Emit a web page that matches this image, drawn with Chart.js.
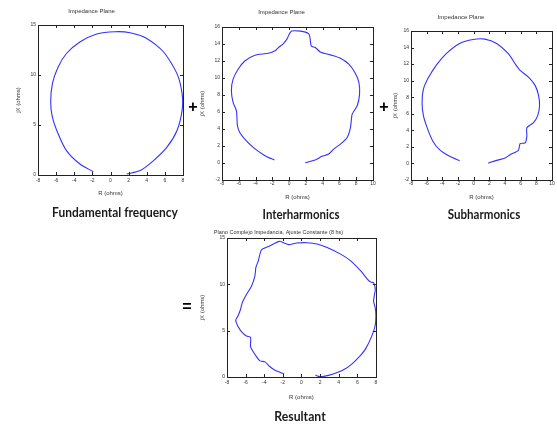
<!DOCTYPE html>
<html>
<head>
<meta charset="utf-8">
<script src="https://cdn.jsdelivr.net/npm/chart.js@4.4.0/dist/chart.umd.min.js"></script>
<style>
  body { margin: 0; background: #fff; }
  #wrap { position: relative; width: 557px; height: 425px; overflow: hidden; }
  canvas { position: absolute; }
  .cap { position: absolute; font-family: Lato, sans-serif; font-size: 13px; font-weight: bold; color: #1a1a1a; white-space: nowrap; }
  .sym { position: absolute; transform: translate(-50%, -50%); font-family: "Liberation Sans", sans-serif; font-weight: bold; font-size: 16px; color: #000; }
</style>
</head>
<body>
<div id="wrap">
  <canvas id="c1" width="190" height="205" style="left:0px;top:0px"></canvas>
  <canvas id="c2" width="190" height="205" style="left:190px;top:0px"></canvas>
  <canvas id="c3" width="187" height="205" style="left:370px;top:0px"></canvas>
  <canvas id="c4" width="200" height="185" style="left:180px;top:225px"></canvas>
  <div class="cap" style="left:115px;top:212px;transform:translate(-50%,-50%) scaleX(0.92)">Fundamental frequency</div>
  <div class="cap" style="left:301px;top:214px;transform:translate(-50%,-50%) scaleX(0.88)">Interharmonics</div>
  <div class="cap" style="left:484px;top:214px;transform:translate(-50%,-50%) scaleX(0.89)">Subharmonics</div>
  <div class="cap" style="left:300px;top:416px;transform:translate(-50%,-50%) scaleX(0.94)">Resultant</div>
  <div class="sym" style="left:193px;top:107px">+</div>
  <div class="sym" style="left:384px;top:107px">+</div>
  <div class="sym" style="left:187px;top:307px">=</div>
</div>
<script>
// fundamental frequency
var fundR = [-1.9,-3.38,-4.86,-5.78,-6.41,-6.6,-6.41,-5.78,-4.86,-3.38,-1.53,0.5,2.16,4.0,5.86,7.34,7.9,7.9,7.34,6.23,4.75,3.27,1.79]
var fundX = [0.33,1.1,2.44,4.12,5.79,7.3,9.14,10.8,12.15,13.3,14.1,14.33,14.23,13.66,12.3,10.14,8.13,6.46,4.45,2.78,1.44,0.44,0.1]

// interharmonics
var interR = [-1.76,-2.88,-4.28,-5.28,-5.88,-6.16,-6.28,-6.68,-6.88,-6.68,-6.08,-5.28,-4.08,-2.48,-1.68,-1.28,-0.68,-0.28,0.32,2.32,2.64,3.12,3.72,4.92,6.12,7.12,7.84,8.32,8.4,8.12,7.52,7.32,6.92,6.12,5.32,4.72,3.92,3.12,1.92]
var interX = [0.35,0.86,1.84,2.82,3.6,4.38,6.14,7.12,8.49,9.86,11.03,12.0,12.68,12.91,13.2,13.58,14.05,14.55,15.53,15.22,13.77,13.58,13.07,12.72,12.32,11.62,10.64,9.47,8.1,6.73,5.75,4.19,3.01,2.23,1.64,1.06,0.78,0.35,0.04]

// subharmonics
var subR = [-1.79,-3.07,-4.36,-5.21,-5.86,-6.41,-6.59,-6.41,-5.86,-4.79,-3.5,-1.79,-0.07,1.43,2.93,4.43,5.29,5.93,7.0,7.86,8.29,8.41,8.16,7.64,6.79,6.79,6.57,5.93,5.71,4.64,4.0,2.93,1.86]
var subX = [0.33,0.86,1.67,2.69,4.11,5.74,7.37,9.0,10.22,11.85,13.27,14.5,14.98,15.02,14.5,13.27,12.05,11.24,10.42,9.4,8.18,6.96,5.74,4.93,4.32,3.3,2.48,2.4,1.59,1.06,0.65,0.37,0.04]

// resultant
var resR = [-1.86,-2.84,-3.45,-3.92,-4.46,-4.82,-5.18,-5.47,-5.47,-5.91,-6.45,-6.81,-7.06,-6.81,-6.56,-6.34,-5.91,-5.36,-5.0,-4.9,-4.64,-4.28,-3.38,-2.37,-1.86,-1.39,-0.49,0.6,1.68,2.76,4.21,5.29,6.37,7.1,7.46,7.75,7.93,7.82,7.75,7.93,8.0,7.9,7.53,6.92,6.37,5.47,4.57,3.48,2.4,1.86,1.5]
var resX = [0.33,0.73,1.16,1.63,1.74,2.18,2.72,3.27,4.29,4.43,4.9,5.45,6.1,6.61,7.26,8.06,8.9,9.81,10.9,11.8,12.53,13.73,14.17,14.64,14.46,14.28,14.46,14.49,14.35,13.98,13.26,12.53,11.44,10.54,10.24,10.17,9.44,8.72,8.17,7.45,6.54,5.45,4.36,3.09,2.36,1.45,0.8,0.36,0.07,0.07,0.22]

// tick labels
var ticksR8 = [-8,-6,-4,-2,0,2,4,6,8]
var ticksR10 = [-8,-6,-4,-2,0,2,4,6,8,10]
var ticksX15 = [0,5,10,15]
var ticksX16 = [-2,0,2,4,6,8,10,12,14,16]

var boxPlugin = {
  id: 'box',
  afterDraw: function(chart) {
    var ctx = chart.ctx, a = chart.chartArea
    var sx = chart.scales.x, sy = chart.scales.y
    ctx.save()
    ctx.strokeStyle = '#222'
    ctx.lineWidth = 1
    ctx.strokeRect(Math.round(a.left) + 0.5, Math.round(a.top) + 0.5, Math.round(a.right - a.left), Math.round(a.bottom - a.top))
    ctx.beginPath()
    sx.ticks.forEach(function(t) {
      var p = Math.round(sx.getPixelForValue(t.value)) + 0.5
      ctx.moveTo(p, a.bottom); ctx.lineTo(p, a.bottom - 3)
      ctx.moveTo(p, a.top); ctx.lineTo(p, a.top + 3)
    })
    sy.ticks.forEach(function(t) {
      var p = Math.round(sy.getPixelForValue(t.value)) + 0.5
      ctx.moveTo(a.left, p); ctx.lineTo(a.left + 3, p)
      ctx.moveTo(a.right, p); ctx.lineTo(a.right - 3, p)
    })
    ctx.stroke()
    ctx.restore()
  }
}

function makeChart(id, rs, xs, o) {
  var pts = rs.map(function(v, i) { return {x: v, y: xs[i]} })
  return new Chart(document.getElementById(id), {
    type: 'scatter',
    data: {
      datasets: [{
        data: pts,
        showLine: true,
        borderColor: '#3232ff',
        borderWidth: 1.1,
        pointRadius: 0,
        tension: 0.25
      }]
    },
    options: {
      responsive: false,
      animation: false,
      layout: {padding: {left: 0, top: 0, right: o.right, bottom: 0}},
      plugins: {
        legend: {display: false},
        tooltip: {enabled: false},
        title: {
          display: true,
          text: o.title,
          color: '#333',
          font: {family: 'Liberation Sans', size: o.titleSize || 6, weight: 'normal'},
          padding: {top: o.titleTop, bottom: o.titleBottom}
        }
      },
      scales: {
        x: {
          type: 'linear',
          min: o.rTicks[0],
          max: o.rTicks[o.rTicks.length - 1],
          afterBuildTicks: function(s) { s.ticks = o.rTicks.map(function(v) { return {value: v} }) },
          afterFit: function(s) { s.height = o.xH },
          grid: {display: false, drawTicks: false},
          border: {display: false},
          ticks: {color: '#333', font: {family: 'Liberation Sans', size: 5}, padding: o.xTickPad, maxRotation: 0, autoSkip: false},
          title: {display: true, text: 'R (ohms)', color: '#333', font: {family: 'Liberation Sans', size: 6}, padding: {top: o.xTitlePad, bottom: o.xTitlePad}}
        },
        y: {
          type: 'linear',
          min: o.xTicks[0],
          max: o.xTicks[o.xTicks.length - 1],
          afterBuildTicks: function(s) { s.ticks = o.xTicks.map(function(v) { return {value: v} }) },
          afterFit: function(s) { s.width = o.yW },
          grid: {display: false, drawTicks: false},
          border: {display: false},
          ticks: {color: '#333', font: {family: 'Liberation Sans', size: 5}, padding: 2, autoSkip: false},
          title: {display: true, text: 'jX (ohms)', color: '#333', font: {family: 'Liberation Sans', size: 6}, padding: {top: o.yTitlePad, bottom: o.yTitlePad}}
        }
      }
    },
    plugins: [boxPlugin]
  })
}

makeChart('c1', fundR, fundX, {title: 'Impedance Plane', rTicks: ticksR8, xTicks: ticksX15,
  right: 7, titleTop: 8, titleBottom: 9.8, yW: 38, yTitlePad: 14.4, xH: 30, xTitlePad: 8.4, xTickPad: 3})
makeChart('c2', interR, interX, {title: 'Impedance Plane', rTicks: ticksR10, xTicks: ticksX16,
  right: 7, titleTop: 9.1, titleBottom: 10.7, yW: 32, yTitlePad: 9.1, xH: 25, xTitlePad: 4.4, xTickPad: 1})
makeChart('c3', subR, subX, {title: 'Impedance Plane', rTicks: ticksR10, xTicks: ticksX16,
  right: 5, titleTop: 13.7, titleBottom: 10.1, yW: 41, yTitlePad: 21.4, xH: 25, xTitlePad: 4.4, xTickPad: 1})
makeChart('c4', resR, resX, {title: 'Plano Complejo Impedancia, Ajuste Constante (8 hs)', titleSize: 5.5, rTicks: ticksR8, xTicks: ticksX15,
  right: 3, titleTop: 4, titleBottom: 2.4, yW: 47, yTitlePad: 19.1, xH: 33, xTitlePad: 9.4, xTickPad: 2.7})
</script>
</body>
</html>
